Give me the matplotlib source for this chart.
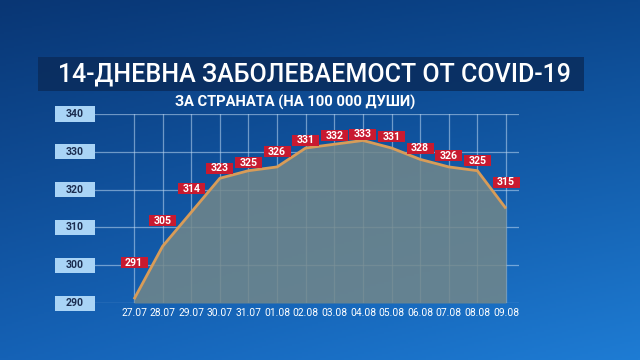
import numpy as np
import matplotlib
matplotlib.use("Agg")
import matplotlib.pyplot as plt
from matplotlib.patches import Rectangle

# ---- data ----
dates = ["27.07", "28.07", "29.07", "30.07", "31.07", "01.08", "02.08",
         "03.08", "04.08", "05.08", "06.08", "07.08", "08.08", "09.08"]
values = [291, 305, 314, 323, 325, 326, 331, 332, 333, 331, 328, 326, 325, 315]
y_ticks = [290, 300, 310, 320, 330, 340]
title = "14-ДНЕВНА ЗАБОЛЕВАЕМОСТ ОТ COVID-19"
subtitle = "ЗА СТРАНАТА (НА 100 000 ДУШИ)"

# label vertical offsets above each point (style, in data units)
label_dy = [9.6, 6.7, 6.2, 2.7, 2.1, 4.0, 2.1, 2.2, 1.7, 3.0, 2.9, 2.9, 2.6, 7.0]

W, H = 640, 360
fig = plt.figure(figsize=(W / 100, H / 100), dpi=100)

# ---- background gradient ----
bg = fig.add_axes([0, 0, 1, 1])
bg.set_axis_off()
yy, xx = np.mgrid[0:1:180j, 0:1:320j]
tl = np.array([0x09, 0x36, 0x74]) / 255
tr = np.array([0x0b, 0x46, 0x8c]) / 255
bl = np.array([0x15, 0x62, 0xb6]) / 255
br = np.array([0x1e, 0x7c, 0xd4]) / 255
img = ((1 - yy)[..., None] * ((1 - xx)[..., None] * tl + xx[..., None] * tr)
       + yy[..., None] * ((1 - xx)[..., None] * bl + xx[..., None] * br))
bg.imshow(img, extent=[0, 1, 0, 1], aspect="auto", origin="upper")
bg.set_xlim(0, 1)
bg.set_ylim(0, 1)

# title banner
bg.add_patch(Rectangle((38 / W, 1 - 91 / H), (584 - 38) / W, (91 - 57) / H,
                       facecolor="#0a2c5c", alpha=0.85, edgecolor="none"))
bg.text(314 / W, 1 - 74.5 / H, title, color="white", fontsize=18.0,
        family="Roboto", fontweight="medium", ha="center", va="center")
bg.text(295 / W, 1 - 102 / H, subtitle, color="white", fontsize=10.6,
        family="Roboto", fontweight="bold", ha="center", va="center")

# ---- main axes ----
left_px, right_px, top_px, bot_px = 95, 519, 114, 303
x0_px, step_px = 134, (506 - 134) / 13
ax = fig.add_axes([left_px / W, 1 - bot_px / H, (right_px - left_px) / W,
                   (bot_px - top_px) / H])
ax.set_facecolor("none")
ax.set_xlim((left_px - x0_px) / step_px, (right_px - x0_px) / step_px)
ax.set_ylim(y_ticks[0], y_ticks[-1])
for s in ax.spines.values():
    s.set_visible(False)
ax.set_xticks([])
ax.set_yticks([])

x = np.arange(len(values))
grid_c = (0.75, 0.85, 0.95, 0.55)
for v in y_ticks:
    ax.axhline(v, color=grid_c, lw=0.9, zorder=1)
for xi in x:
    ax.axvline(xi, color=grid_c, lw=0.9, zorder=1)

ax.fill_between(x, values, y_ticks[0], color="#72878a", alpha=0.85, zorder=2,
                lw=0)
ax.plot(x, values, color="#d89c58", lw=2.0, zorder=4, solid_capstyle="butt")

px_per_unit = (bot_px - top_px) / (y_ticks[-1] - y_ticks[0])

# value labels
bw = 27 / step_px
bh = 11 / px_per_unit
for xi, v, dy in zip(x, values, label_dy):
    cy = v + dy
    ax.add_patch(Rectangle((xi - bw / 2, cy - bh / 2), bw, bh,
                           facecolor="#c81a30", edgecolor="none", zorder=5,
                           clip_on=False))
    ax.text(xi, cy, str(v), color="white", fontsize=7.6, fontweight="bold",
            family="Roboto", ha="center", va="center", zorder=6, clip_on=False)

# y labels
ytr = ax.get_yaxis_transform()
ax_w = right_px - left_px
ybh = 15 / px_per_unit
for v in y_ticks:
    ax.add_patch(Rectangle(((55 - left_px) / ax_w, v - ybh / 2), 40 / ax_w, ybh,
                           transform=ytr, facecolor="#a9d4f6",
                           edgecolor="none", clip_on=False, zorder=5))
    ax.text((75 - left_px) / ax_w, v, str(v), transform=ytr, color="#1b2d50",
            fontsize=7.6, fontweight="bold", family="Roboto",
            ha="center", va="center", zorder=6, clip_on=False)

# x labels
for xi, d in zip(x, dates):
    ax.text(xi, y_ticks[0] - 10 / px_per_unit, d, color="white", fontsize=7.4,
            family="Roboto", ha="center", va="center", clip_on=False)

fig.savefig("out.png", dpi=100)
